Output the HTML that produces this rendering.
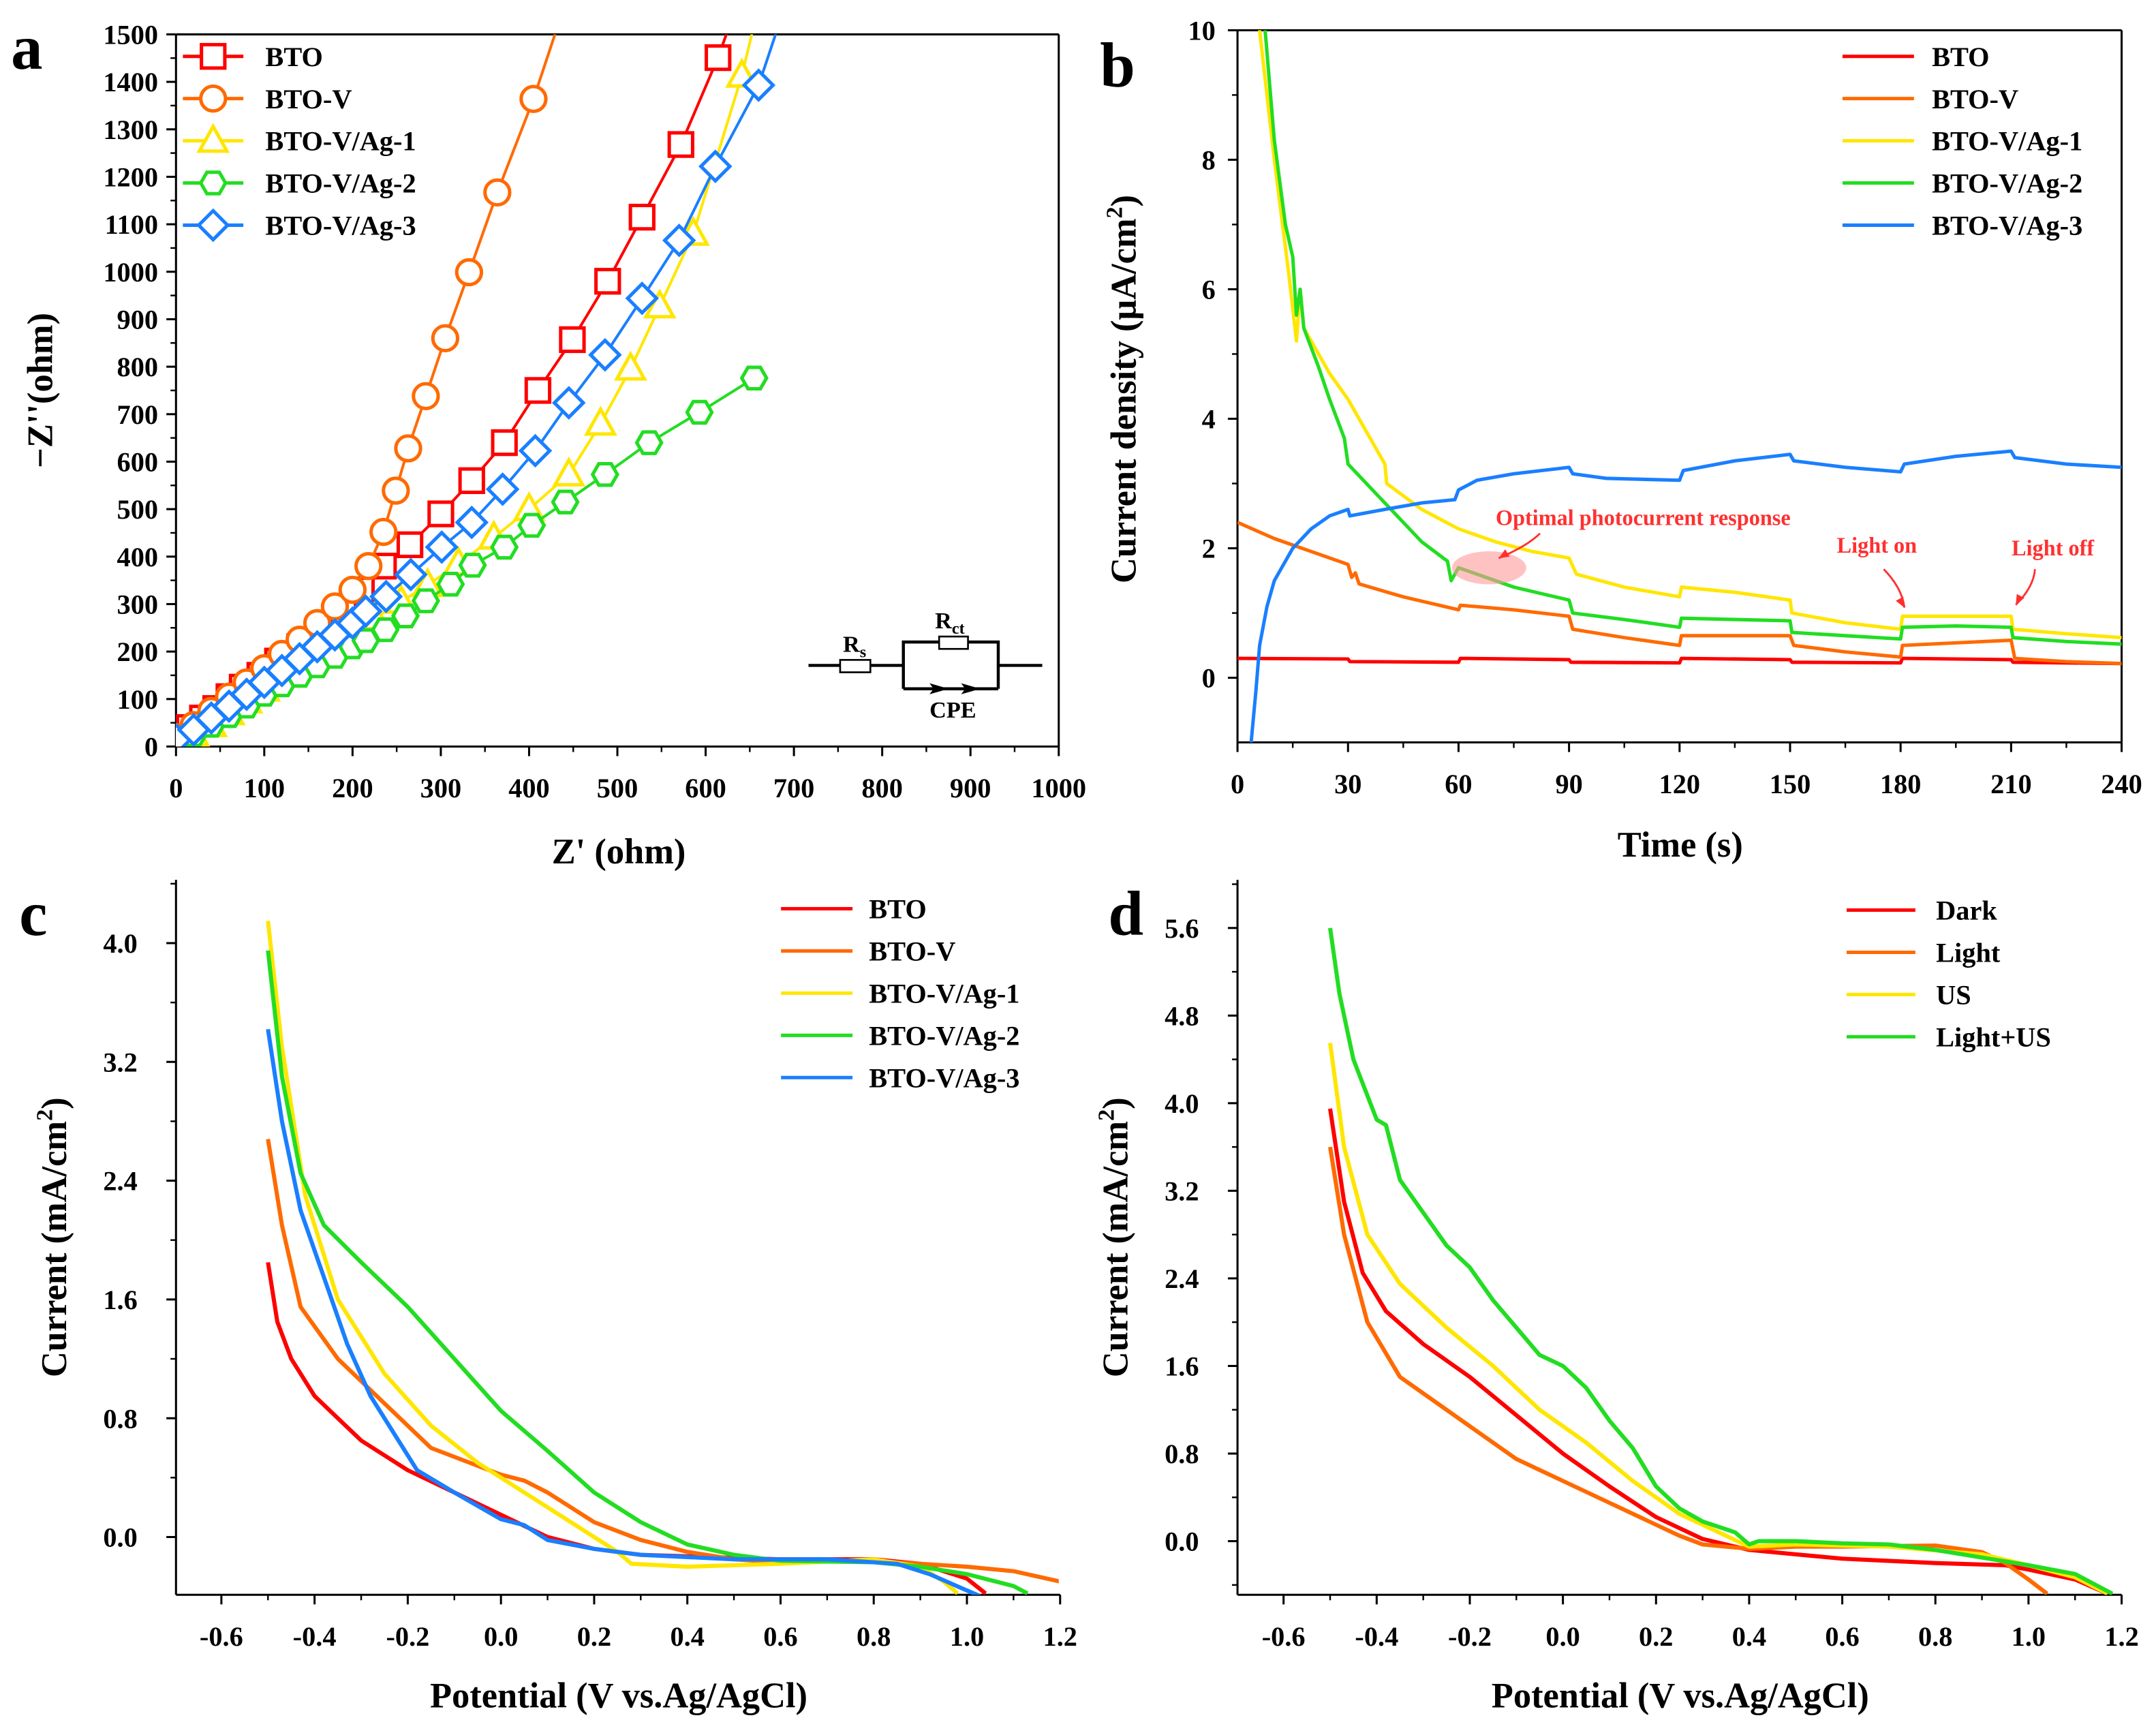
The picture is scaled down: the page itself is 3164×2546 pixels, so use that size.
<!DOCTYPE html>
<html><head><meta charset="utf-8"><style>
html,body{margin:0;padding:0;background:#fff}
svg{display:block}
text{font-family:"Liberation Serif",serif;font-weight:bold;fill:#000}
</style></head><body>
<svg id="fig" xmlns="http://www.w3.org/2000/svg" width="3164" height="2546" viewBox="0 0 1568 1262" preserveAspectRatio="none">
<defs>
<clipPath id="clipA"><rect x="128" y="25" width="642" height="518"/></clipPath>
<clipPath id="clipB"><rect x="900" y="22" width="643" height="518"/></clipPath>
<clipPath id="clipC"><rect x="128" y="640" width="642" height="520"/></clipPath>
<clipPath id="clipD"><rect x="900" y="640" width="643" height="520"/></clipPath>
</defs>
<text x="8" y="50" font-size="46">a</text>
<text x="800" y="63" font-size="46">b</text>
<text x="14" y="680" font-size="46">c</text>
<text x="806" y="680" font-size="46">d</text>

<g stroke="#000" stroke-width="2.2" fill="none">
<line x1="588" y1="484" x2="611" y2="484"/><line x1="633" y1="484" x2="657" y2="484"/>
<rect x="611" y="480" width="22" height="9" stroke-width="1.3" fill="#fff"/>
<polyline points="657,501 657,467 683,467"/><polyline points="704,467 726,467 726,501"/>
<rect x="683" y="463" width="21" height="9" stroke-width="1.3" fill="#fff"/>
<line x1="726" y1="484" x2="758" y2="484"/>
<line x1="657" y1="501" x2="726" y2="501"/>
<polygon points="676,497 690,501 676,505 679,501" fill="#000" stroke="none"/>
<polygon points="699,497 713,501 699,505 702,501" fill="#000" stroke="none"/>
</g>
<text x="613" y="474" font-size="17">R<tspan font-size="12" dy="4">s</tspan></text>
<text x="680" y="457" font-size="17">R<tspan font-size="12" dy="4">ct</tspan></text>
<text x="693" y="522" font-size="17" text-anchor="middle">CPE</text>
</svg>
<script>
// ---------- Panel a data (Z', -Z'') ----------
var aNames = ["BTO","BTO-V","BTO-V/Ag-1","BTO-V/Ag-2","BTO-V/Ag-3"];
var aColors = ["#ff0000","#ff6a00","#ffe600","#22dd22","#1a7fff"];
var aBTO = [[0,25],[15,40],[30,60],[45,80],[60,105],[75,125],[95,150],[115,180],[140,210],[165,245],[190,285],[210,330],[235,380],[265,425],[300,490],[335,560],[372,640],[410,750],[449,857],[489,980],[528,1115],[572,1268],[614,1451],[635,1560]];
var aBTOV = [[0,20],[20,45],[40,75],[60,105],[80,135],[100,165],[120,195],[140,225],[160,260],[180,295],[200,330],[218,380],[235,452],[249,539],[263,628],[283,738],[305,860],[332,999],[364,1167],[405,1364],[440,1560]];
var aAg1 = [[0,10],[20,25],[40,45],[60,70],[80,95],[100,120],[125,150],[150,180],[175,210],[200,240],[225,270],[255,305],[285,340],[320,385],[360,440],[400,500],[445,573],[481,680],[515,796],[548,927],[586,1080],[641,1413],[660,1560]];
var aAg2 = [[0,10],[20,25],[40,45],[60,65],[80,85],[100,110],[120,130],[140,150],[160,170],[180,190],[200,210],[215,223],[237,246],[260,275],[283,307],[311,342],[336,382],[372,420],[403,466],[441,515],[486,573],[536,640],[593,704],[655,776]];
var aAg3 = [[0,15],[20,35],[40,60],[60,85],[80,110],[100,135],[120,160],[140,185],[160,210],[180,235],[200,260],[215,285],[238,316],[266,362],[301,420],[335,472],[370,542],[407,623],[445,724],[486,825],[528,944],[570,1066],[611,1222],[660,1393],[690,1560]];
var aXTicks = [0,100,200,300,400,500,600,700,800,900,1000];
var aYTicks = [0,100,200,300,400,500,600,700,800,900,1000,1100,1200,1300,1400,1500];
// ---------- Panel b data (time, current density) ----------
var bNames = ["BTO","BTO-V","BTO-V/Ag-1","BTO-V/Ag-2","BTO-V/Ag-3"];
var bColors = ["#ff0000","#ff6a00","#ffe600","#22dd22","#1a7fff"];
var bBTO = [[0,0.3],[30,0.29],[30.5,0.25],[60,0.24],[60.5,0.3],[90,0.28],[90.5,0.24],[120,0.23],[120.5,0.3],[150,0.28],[150.5,0.24],[180,0.23],[180.5,0.3],[210,0.28],[210.5,0.24],[240,0.22]];
var bBTOV = [[0,2.4],[10,2.15],[20,1.95],[30,1.75],[31,1.55],[32,1.62],[33,1.45],[45,1.25],[60,1.05],[60.5,1.12],[75,1.05],[90,0.95],[91,0.75],[105,0.62],[120,0.5],[120.5,0.65],[150,0.65],[151,0.5],[165,0.4],[180,0.32],[180.5,0.5],[210,0.58],[211,0.3],[225,0.25],[240,0.22]];
var bAg1 = [[0,12],[5,10.5],[10,8],[14,6.2],[16,5.2],[17,6.0],[18,5.4],[20,5.2],[25,4.7],[30,4.3],[35,3.8],[40,3.3],[40.5,3.0],[50,2.6],[60,2.3],[70,2.1],[80,1.95],[90,1.85],[92,1.6],[105,1.4],[120,1.25],[120.5,1.4],[135,1.32],[150,1.2],[150.5,1.0],[165,0.85],[180,0.75],[180.5,0.95],[195,0.95],[210,0.95],[210.5,0.75],[225,0.68],[240,0.62]];
var bAg2 = [[7.5,10],[10,8.3],[13,7.0],[15,6.5],[16,5.6],[17,6.0],[18,5.4],[22,4.8],[25,4.3],[29,3.7],[30,3.3],[35,3.0],[40,2.7],[50,2.1],[57,1.8],[58,1.5],[60,1.7],[75,1.4],[90,1.2],[91,1.0],[105,0.9],[120,0.78],[120.5,0.92],[135,0.9],[150,0.88],[150.5,0.7],[165,0.65],[180,0.6],[180.5,0.78],[195,0.8],[210,0.78],[210.5,0.62],[225,0.56],[240,0.52]];
var bAg3 = [[3.7,-1],[5,-0.2],[6,0.5],[8,1.1],[10,1.5],[15,2.0],[20,2.3],[25,2.5],[30,2.6],[30.5,2.5],[40,2.6],[50,2.7],[59,2.75],[60,2.9],[65,3.05],[75,3.15],[90,3.25],[91,3.15],[100,3.08],[120,3.05],[121,3.2],[135,3.35],[150,3.45],[151,3.35],[165,3.25],[180,3.18],[181,3.3],[195,3.42],[210,3.5],[211,3.4],[225,3.3],[240,3.25]];
var bXTicks = [0,30,60,90,120,150,180,210,240];
var bYTicks = [0,2,4,6,8,10];
// ---------- Panel c data (potential, current) ----------
var cNames = ["BTO","BTO-V","BTO-V/Ag-1","BTO-V/Ag-2","BTO-V/Ag-3"];
var cColors = ["#ff0000","#ff6a00","#ffe600","#22dd22","#1a7fff"];
var cBTO = [[-0.5,1.85],[-0.48,1.45],[-0.45,1.2],[-0.4,0.95],[-0.3,0.65],[-0.2,0.45],[-0.1,0.3],[0,0.15],[0.1,0.0],[0.2,-0.08],[0.3,-0.12],[0.4,-0.13],[0.6,-0.15],[0.8,-0.15],[0.9,-0.18],[1.0,-0.28],[1.04,-0.38]];
var cBTOV = [[-0.5,2.68],[-0.47,2.1],[-0.43,1.55],[-0.35,1.2],[-0.25,0.9],[-0.15,0.6],[-0.05,0.48],[0,0.42],[0.05,0.38],[0.1,0.3],[0.2,0.1],[0.3,-0.02],[0.4,-0.1],[0.5,-0.15],[0.6,-0.17],[0.8,-0.16],[0.9,-0.18],[1.0,-0.2],[1.1,-0.23],[1.2,-0.3]];
var cAg1 = [[-0.5,4.15],[-0.47,3.3],[-0.42,2.3],[-0.35,1.6],[-0.25,1.1],[-0.15,0.75],[-0.05,0.5],[0.05,0.3],[0.15,0.1],[0.25,-0.1],[0.28,-0.18],[0.4,-0.2],[0.6,-0.18],[0.8,-0.15],[0.9,-0.2],[0.95,-0.3],[0.98,-0.38]];
var cAg2 = [[-0.5,3.95],[-0.47,3.1],[-0.43,2.45],[-0.38,2.1],[-0.3,1.85],[-0.2,1.55],[-0.1,1.2],[0,0.85],[0.1,0.58],[0.2,0.3],[0.3,0.1],[0.4,-0.05],[0.5,-0.12],[0.6,-0.16],[0.8,-0.17],[0.9,-0.2],[1.0,-0.25],[1.1,-0.33],[1.13,-0.38]];
var cAg3 = [[-0.5,3.42],[-0.47,2.8],[-0.43,2.2],[-0.38,1.75],[-0.33,1.3],[-0.28,0.95],[-0.22,0.65],[-0.18,0.45],[-0.1,0.3],[0,0.12],[0.05,0.08],[0.1,-0.02],[0.2,-0.08],[0.3,-0.12],[0.5,-0.15],[0.7,-0.15],[0.85,-0.18],[0.92,-0.25],[1.0,-0.36],[1.03,-0.4]];
var cXTicks = [-0.6,-0.4,-0.2,0.0,0.2,0.4,0.6,0.8,1.0,1.2];
var cYTicks = [0.0,0.8,1.6,2.4,3.2,4.0];
// ---------- Panel d data ----------
var dNames = ["Dark","Light","US","Light+US"];
var dColors = ["#ff0000","#ff6a00","#ffe600","#22dd22"];
var dDark = [[-0.5,3.95],[-0.47,3.1],[-0.43,2.45],[-0.38,2.1],[-0.3,1.8],[-0.2,1.5],[-0.1,1.15],[0,0.8],[0.1,0.5],[0.2,0.22],[0.3,0.02],[0.4,-0.08],[0.5,-0.12],[0.6,-0.16],[0.8,-0.2],[0.95,-0.22],[1.0,-0.26],[1.1,-0.35],[1.17,-0.48]];
var dLight = [[-0.5,3.6],[-0.47,2.8],[-0.42,2.0],[-0.35,1.5],[-0.2,1.05],[-0.1,0.75],[0,0.55],[0.1,0.35],[0.2,0.15],[0.25,0.05],[0.3,-0.03],[0.4,-0.07],[0.5,-0.05],[0.6,-0.05],[0.8,-0.04],[0.9,-0.1],[0.95,-0.2],[1.0,-0.35],[1.04,-0.48]];
var dUS = [[-0.5,4.55],[-0.47,3.6],[-0.42,2.8],[-0.35,2.35],[-0.25,1.95],[-0.15,1.6],[-0.05,1.2],[0.05,0.9],[0.15,0.55],[0.25,0.25],[0.35,0.05],[0.4,-0.05],[0.5,-0.03],[0.7,-0.05],[0.9,-0.12],[1.0,-0.22],[1.1,-0.33],[1.17,-0.48]];
var dLUS = [[-0.5,5.6],[-0.48,5.0],[-0.45,4.4],[-0.4,3.85],[-0.38,3.8],[-0.35,3.3],[-0.3,3.0],[-0.25,2.7],[-0.2,2.5],[-0.15,2.2],[-0.1,1.95],[-0.05,1.7],[0,1.6],[0.05,1.4],[0.1,1.1],[0.15,0.85],[0.2,0.5],[0.25,0.3],[0.3,0.18],[0.37,0.08],[0.4,-0.03],[0.42,0.0],[0.5,0.0],[0.6,-0.02],[0.7,-0.03],[0.8,-0.08],[0.9,-0.15],[1.0,-0.22],[1.1,-0.3],[1.18,-0.48]];
var dXTicks = [-0.6,-0.4,-0.2,0.0,0.2,0.4,0.6,0.8,1.0,1.2];
var dYTicks = [0.0,0.8,1.6,2.4,3.2,4.0,4.8,5.6];

var NS = "http://www.w3.org/2000/svg";
var svg = document.getElementById("fig");
function mk(tag, attrs, parent){ var e=document.createElementNS(NS,tag); for(var k in attrs) e.setAttribute(k,attrs[k]); (parent||svg).appendChild(e); return e; }
function lin(d0,d1,r0,r1){ return function(v){ return r0+(v-d0)*(r1-r0)/(d1-d0); }; }

function axes(o){
  var g = mk("g",{});
  
  
  var L=o.L,R=o.R,T=o.T,B=o.B;
  mk("line",{x1:L,y1:B,x2:R,y2:B,stroke:"#000","stroke-width":1.5},g);
  mk("line",{x1:L,y1:T,x2:L,y2:B,stroke:"#000","stroke-width":1.5},g);
  if(o.box){ mk("line",{x1:L,y1:T,x2:R,y2:T,stroke:"#000","stroke-width":1.5},g); mk("line",{x1:R,y1:T,x2:R,y2:B,stroke:"#000","stroke-width":1.5},g); }
  o.xt.forEach(function(v){
    var x=o.sx(v);
    mk("line",{x1:x,y1:B,x2:x,y2:B+7,stroke:"#000","stroke-width":1.5},g);
    var t=mk("text",{x:x,y:o.xly,"font-size":20,"text-anchor":"middle"},g);
    
    
    t.textContent = o.xf(v);
  });
  if(o.xminor) o.xminor.forEach(function(v){ var x=o.sx(v); if(x>=L&&x<=R) mk("line",{x1:x,y1:B,x2:x,y2:B+4,stroke:"#000","stroke-width":1.2},g); });
  o.yt.forEach(function(v){
    var y=o.sy(v);
    mk("line",{x1:L-7,y1:y,x2:L,y2:y,stroke:"#000","stroke-width":1.5},g);
    var t=mk("text",{x:o.ylx,y:y+7,"font-size":20,"text-anchor":"end"},g);
    
    
    t.textContent = o.yf(v);
  });
  if(o.yminor) o.yminor.forEach(function(v){ var y=o.sy(v); if(y>=T&&y<=B) mk("line",{x1:L-4,y1:y,x2:L,y2:y,stroke:"#000","stroke-width":1.2},g); });
}
function path(pts,sx,sy){ return pts.map(function(p,i){return (i?"L":"M")+sx(p[0]).toFixed(2)+","+sy(p[1]).toFixed(2);}).join(""); }
function series(pts,sx,sy,color,clip,name,w){
  var p=mk("path",{d:path(pts,sx,sy),fill:"none",stroke:color,"stroke-width":w||2.5,"stroke-linejoin":"round","clip-path":"url(#"+clip+")"});
  
  
  return p;
}
function marker(type,x,y,color,parent){
  var s=8.5, e;
  if(type==0) e=mk("rect",{x:x-s,y:y-s,width:2*s,height:2*s},parent);
  else if(type==1) e=mk("circle",{cx:x,cy:y,r:s+0.5},parent);
  else if(type==2) e=mk("polygon",{points:(x)+","+(y-s-2)+" "+(x+s+1.5)+","+(y+s-1)+" "+(x-s-1.5)+","+(y+s-1)},parent);
  else if(type==3){ var pts=[]; for(var i=0;i<6;i++){var a=Math.PI/3*i; pts.push((x+(s+0.5)*Math.cos(a)).toFixed(1)+","+(y+(s+0.5)*Math.sin(a)).toFixed(1));} e=mk("polygon",{points:pts.join(" ")},parent); }
  else e=mk("polygon",{points:x+","+(y-s-2)+" "+(x+s+2)+","+y+" "+x+","+(y+s+2)+" "+(x-s-2)+","+y},parent);
  e.setAttribute("fill","#fff"); e.setAttribute("stroke",color); e.setAttribute("stroke-width",2.5);
  return e;
}
function legendEntry(x1,x2,tx,y,color,label,name,mtype){
  var g=mk("g",{});
  
  
  mk("line",{x1:x1,y1:y,x2:x2,y2:y,stroke:color,"stroke-width":2.5},g);
  if(mtype!=null) marker(mtype,(x1+x2)/2,y,color,g);
  var t=mk("text",{x:tx,y:y+7,"font-size":20},g);
  t.textContent=label;
}
function title(x,y,txt,rot,name,size){
  var t=mk("text",{x:x,y:y,"font-size":size||26,"text-anchor":"middle"});
  if(rot) t.setAttribute("transform","rotate(-90 "+x+" "+y+")");
  
  
  t.innerHTML=txt;
}
function range(a,b,s){ var r=[]; for(var v=a; v<=b+1e-9; v+=s) r.push(Math.round(v*1000)/1000); return r; }

// ---- Panel a ----
var axA = lin(0,1000,128,770), ayA = lin(0,1500,543,25);
axes({name:"panel-a",L:128,R:770,T:25,B:543,box:true,sx:axA,sy:ayA,xt:aXTicks,yt:aYTicks,xly:580,ylx:115,xf:function(v){return v;},yf:function(v){return v;},xminor:range(50,950,100),yminor:range(50,1450,100)});
var aData=[aBTO,aBTOV,aAg1,aAg2,aAg3];
aData.forEach(function(d,i){
  var p=mk("path",{d:path(d,axA,ayA),fill:"none",stroke:aColors[i],"stroke-width":2,"clip-path":"url(#clipA)"});
  
  
  var g=mk("g",{"clip-path":"url(#clipA)"});
  
  
  d.forEach(function(pt){ if(pt[1]<=1500) marker(i,axA(pt[0]),ayA(pt[1]),aColors[i],g); });
});
aNames.forEach(function(n,i){ legendEntry(133,177,193,41+30.7*i,aColors[i],n,'legend-a-'+n.toLowerCase().replace(/[^a-z0-9]+/g,'-'),i); });
title(450,628,"Z' (ohm)",false,"x-axis-title-a");
title(38,284,"−Z''(ohm)",true,"y-axis-title-a");

// ---- Panel b ----
var axB = lin(0,240,900,1543), ayB = lin(0,10,493,22);
axes({name:"panel-b",L:900,R:1543,T:22,B:540,box:true,sx:axB,sy:ayB,xt:bXTicks,yt:bYTicks,xly:577,ylx:884,xf:function(v){return v;},yf:function(v){return v;},xminor:range(15,225,30),yminor:range(-1,9,2)});
var bData=[bBTO,bBTOV,bAg1,bAg2,bAg3];
bData.forEach(function(d,i){ series(d,axB,ayB,bColors[i],"clipB",'it-curve-'+bNames[i].toLowerCase().replace(/[^a-z0-9]+/g,'-'),2.5); });
bNames.forEach(function(n,i){ legendEntry(1340,1392,1405,41+30.7*i,bColors[i],n,'legend-b-'+n.toLowerCase().replace(/[^a-z0-9]+/g,'-'),null); });
title(1222,623,"Time (s)",false,"x-axis-title-b");
title(826,283,"Current density (μA/cm<tspan font-size='17' dy='-10'>2</tspan><tspan dy='10'>)</tspan>",true,"y-axis-title-b");
var el=mk("ellipse",{cx:1083,cy:413,rx:27,ry:12,fill:"#ff9a9a","fill-opacity":0.6});


function ann(tx,ty,txt,ax1,ay1,ax2,ay2,name){
  var t=mk("text",{x:tx,y:ty,"font-size":16,"text-anchor":"middle",style:"fill:#ff3030"});
  
  
  t.textContent=txt;
  var a=mk("path",{d:"M"+ax1+","+ay1+" Q"+((ax1+ax2)/2+6)+","+((ay1+ay2)/2)+" "+ax2+","+ay2,stroke:"#ff3030","stroke-width":1.4,fill:"none"});
  
  
  var ang=Math.atan2(ay2-ay1,ax2-ax1), L=8;
  mk("polygon",{points:ax2+","+ay2+" "+(ax2-L*Math.cos(ang-0.4))+","+(ay2-L*Math.sin(ang-0.4))+" "+(ax2-L*Math.cos(ang+0.4))+","+(ay2-L*Math.sin(ang+0.4)),fill:"#ff3030"});
}
ann(1195,382,"Optimal photocurrent response",1120,388,1090,406,"optimal-annotation");
ann(1365,402,"Light on",1370,414,1385,442,"light-on-annotation");
ann(1493,404,"Light off",1480,414,1466,440,"light-off-annotation");

// ---- Panel c ----
var axC = lin(-0.6,1.2,161,771), ayC = lin(0,4.0,1118,686);
axes({name:"panel-c",L:128,R:771,T:640,B:1160,box:false,sx:axC,sy:ayC,xt:cXTicks,yt:cYTicks,xly:1197,ylx:100,xf:function(v){return v.toFixed(1);},yf:function(v){return v.toFixed(1);},xminor:range(-0.7,1.1,0.2),yminor:range(-0.4,4.4,0.8)});
var cData=[cBTO,cBTOV,cAg1,cAg2,cAg3];
cData.forEach(function(d,i){ series(d,axC,ayC,cColors[i],"clipC",'lsv-curve-'+cNames[i].toLowerCase().replace(/[^a-z0-9]+/g,'-'),3); });
cNames.forEach(function(n,i){ legendEntry(568,620,632,661+30.7*i,cColors[i],n,'legend-c-'+n.toLowerCase().replace(/[^a-z0-9]+/g,'-'),null); });
title(450,1242,"Potential (V vs.Ag/AgCl)",false,"x-axis-title-c");
title(48,900,"Current (mA/cm<tspan font-size='17' dy='-10'>2</tspan><tspan dy='10'>)</tspan>",true,"y-axis-title-c");

// ---- Panel d ----
var axD = lin(-0.6,1.2,933.5,1543), ayD = lin(0,5.6,1121,675);
axes({name:"panel-d",L:900,R:1543,T:640,B:1160,box:false,sx:axD,sy:ayD,xt:dXTicks,yt:dYTicks,xly:1197,ylx:872,xf:function(v){return v.toFixed(1);},yf:function(v){return v.toFixed(1);},xminor:range(-0.7,1.1,0.2),yminor:range(-0.4,6.0,0.8)});
var dData=[dDark,dLight,dUS,dLUS];
dData.forEach(function(d,i){ series(d,axD,ayD,dColors[i],"clipD",'lsv-curve-'+dNames[i].toLowerCase().replace(/[^a-z0-9]+/g,'-'),3); });
dNames.forEach(function(n,i){ legendEntry(1343,1393,1408,662+30.7*i,dColors[i],n,'legend-d-'+n.toLowerCase().replace(/[^a-z0-9]+/g,'-'),null); });
title(1222,1242,"Potential (V vs.Ag/AgCl)",false,"x-axis-title-d");
title(820,900,"Current (mA/cm<tspan font-size='17' dy='-10'>2</tspan><tspan dy='10'>)</tspan>",true,"y-axis-title-d");
</script>
</body></html>
